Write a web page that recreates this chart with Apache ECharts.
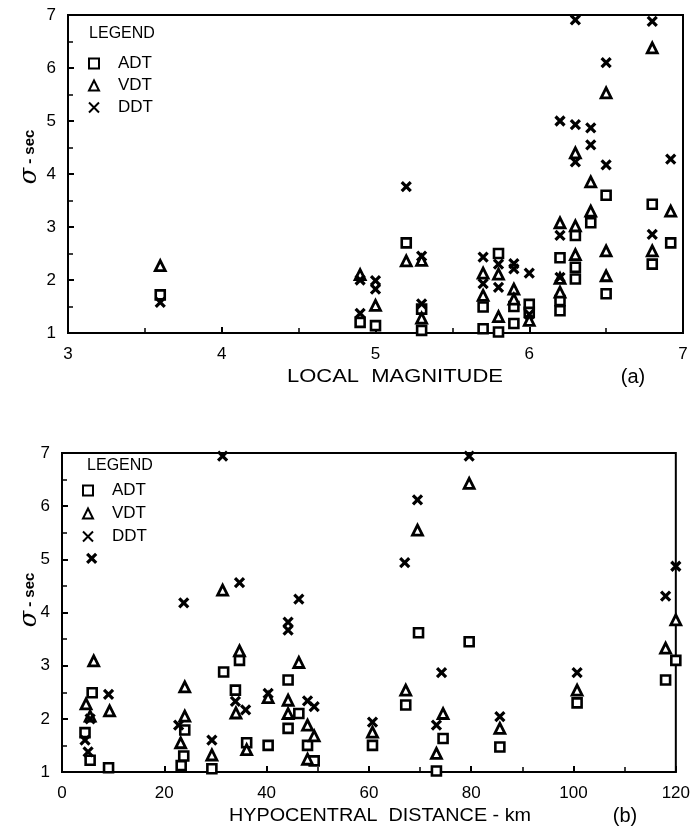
<!DOCTYPE html>
<html>
<head>
<meta charset="utf-8">
<script src="https://cdn.jsdelivr.net/npm/echarts@6/dist/echarts.min.js"></script>
<style>
html,body{margin:0;padding:0;background:#fff;}
#c{width:693px;height:829px;}
</style>
</head>
<body>
<div id="c"></div>
<script>
// (a) sigma vs local magnitude
var adtA = [[3.6,1.72],[4.9,1.2],[5.0,1.14],[5.2,2.70],[5.3,1.45],[5.3,1.05],[5.7,1.49],[5.7,1.08],[5.8,2.50],[5.8,1.02],[5.9,1.5],[5.9,1.18],[6.0,1.54],[6.0,1.39],[6.2,2.42],[6.2,1.61],[6.2,1.42],[6.3,2.84],[6.3,2.24],[6.3,2.02],[6.4,3.08],[6.5,3.6],[6.5,1.74],[6.8,3.43],[6.8,2.3],[6.92,2.7]];
var vdtA = [[3.6,2.27],[4.9,2.1],[5.0,1.52],[5.2,2.36],[5.3,2.37],[5.3,1.28],[5.7,2.13],[5.7,1.71],[5.8,2.11],[5.8,1.31],[5.9,1.83],[5.9,1.64],[6.0,1.24],[6.2,3.08],[6.2,2.03],[6.2,1.77],[6.3,4.4],[6.3,3.02],[6.3,2.48],[6.4,3.85],[6.4,3.3],[6.5,5.53],[6.5,2.55],[6.5,2.08],[6.8,6.38],[6.8,2.55],[6.92,3.3]];
var ddtA = [[3.6,1.58],[4.9,2.0],[4.9,1.37],[5.0,1.99],[5.0,1.83],[5.2,3.76],[5.3,2.45],[5.3,1.55],[5.7,2.43],[5.7,1.93],[5.8,2.30],[5.8,1.86],[5.9,2.31],[5.9,2.21],[6.0,2.13],[6.0,1.35],[6.2,5.0],[6.2,2.84],[6.2,2.05],[6.3,6.91],[6.3,4.93],[6.3,4.23],[6.4,4.87],[6.4,4.55],[6.5,6.1],[6.5,4.17],[6.8,6.88],[6.8,2.86],[6.92,4.28]];
// (b) sigma vs hypocentral distance
var adtB = [[4.5,1.74],[5.9,2.49],[5.5,1.22],[9.1,1.08],[23.3,1.12],[23.8,1.3],[24,1.79],[29.3,1.06],[31.6,2.88],[33.9,2.54],[34.7,3.1],[36.1,1.55],[40.3,1.5],[44.2,2.73],[44.2,1.82],[46.3,2.1],[48,1.5],[49.3,1.21],[60.7,1.5],[67.2,2.26],[69.7,3.62],[73.2,1.02],[74.5,1.63],[79.6,3.45],[85.6,1.47],[100.7,2.3],[118,2.73],[120,3.1]];
var vdtB = [[4.7,2.28],[5.5,2.05],[6.2,3.09],[9.3,2.15],[23.2,1.55],[24,2.6],[24,2.05],[29.3,1.32],[31.4,4.42],[34,2.11],[34.7,3.28],[36.1,1.42],[40.3,2.4],[44.2,2.35],[44.2,2.1],[46.3,3.06],[48,1.88],[48,1.24],[49.3,1.68],[60.7,1.75],[67.2,2.54],[69.5,5.55],[73.2,1.35],[74.5,2.1],[79.6,6.43],[85.6,1.82],[100.7,2.54],[118,3.33],[120,3.86]];
var ddtB = [[4.5,1.6],[5.1,1.38],[5.5,2.0],[5.8,5.02],[9.1,2.46],[22.8,1.88],[23.8,4.18],[29.3,1.6],[31.4,6.94],[33.9,2.33],[34.7,4.56],[35.9,2.17],[40.3,2.48],[44.2,3.82],[44.2,3.67],[46.3,4.25],[48,2.34],[49.3,2.23],[60.7,1.94],[67,4.94],[69.5,6.12],[73.2,1.88],[74.2,2.87],[79.6,6.94],[85.6,2.04],[100.7,2.87],[118,4.31],[120,4.87]];
var yTicks = [1,2,3,4,5,6,7];

var FONT = 'Liberation Sans';
var crossPath = 'path://M0,0 L10,10 M10,0 L0,10';

function xAx(idx, min, max, interval) {
  return {
    type: 'value', gridIndex: idx, min: min, max: max, interval: interval,
    axisLine: {show: true, onZero: false, lineStyle: {color: '#000', width: 2}},
    axisTick: {show: true, inside: true, length: 6, lineStyle: {color: '#000', width: 2}},
    minorTick: {show: true, splitNumber: 2, length: 5, lineStyle: {color: '#000', width: 1.5}},
    splitLine: {show: false},
    axisLabel: {color: '#000', fontFamily: FONT, fontSize: 17, margin: 13}
  };
}
function yAx(idx) {
  return {
    type: 'value', gridIndex: idx, min: 1, max: 7, interval: 1,
    axisLine: {show: true, onZero: false, lineStyle: {color: '#000', width: 2}},
    axisTick: {show: true, inside: true, length: 6, lineStyle: {color: '#000', width: 2}},
    minorTick: {show: true, splitNumber: 2, length: 5, lineStyle: {color: '#000', width: 1.5}},
    splitLine: {show: false},
    axisLabel: {color: '#000', fontFamily: FONT, fontSize: 17, margin: 12,
      formatter: function (v) { return yTicks.indexOf(v) >= 0 ? String(v) : ''; }}
  };
}
var sq = {symbol: 'rect', symbolSize: 9, itemStyle: {color: '#fff', borderColor: '#000', borderWidth: 2.6, opacity: 1}};
var tr = {symbol: 'triangle', symbolSize: 10, itemStyle: {color: '#fff', borderColor: '#000', borderWidth: 2.8, opacity: 1}};
var cr = {symbol: crossPath, symbolSize: 9, itemStyle: {color: '#000', borderColor: '#000', borderWidth: 3.2, opacity: 1}};
function ser(name, data, idx, sty) {
  return Object.assign({type: 'scatter', name: name, data: data, xAxisIndex: idx, yAxisIndex: idx, z: 3},
    JSON.parse(JSON.stringify(sty)), {symbol: sty.symbol});
}
function leg(left, top, gap) {
  return {
    orient: 'vertical', left: left, top: top, itemGap: gap, itemWidth: 10, itemHeight: 10,
    data: ['ADT', 'VDT', 'DDT'], textStyle: {color: '#000', fontFamily: FONT, fontSize: 17, padding: [0, 0, 0, 14]},
    selectedMode: false
  };
}
function txt(x, y, s, size, sx) {
  return {type: 'text', x: x, y: y, scaleX: sx || 1,
    style: {text: s, fill: '#000', font: (size || 16) + 'px "' + FONT + '"', textAlign: 'center', textVerticalAlign: 'middle'}};
}
function sigma(x, y) {
  return {type: 'text', x: x, y: y, rotation: Math.PI / 2,
    style: {rich: {s: {fontFamily: 'DejaVu Serif', fontStyle: 'italic', fontSize: 24, fill: '#000'}, t: {fontFamily: FONT, fontSize: 15, fontWeight: 'bold', fill: '#000'}},
      text: '{s|σ}{t| - sec}', textAlign: 'center', textVerticalAlign: 'middle'}};
}

var chart = echarts.init(document.getElementById('c'));
chart.setOption({
  animation: false,
  backgroundColor: '#fff',
  grid: [
    {left: 68, top: 15, width: 615, height: 318, show: true, borderColor: '#000', borderWidth: 2, backgroundColor: 'transparent'},
    {left: 62, top: 453, width: 616, height: 319, show: true, borderColor: '#000', borderWidth: 2, backgroundColor: 'transparent'}
  ],
  xAxis: [xAx(0, 3, 7, 1), xAx(1, 0, 120, 20)],
  yAxis: [yAx(0), yAx(1)],
  legend: [leg(83, 50, 5), leg(77, 477, 6)],
  series: [
    ser('ADT', adtA, 0, sq), ser('VDT', vdtA, 0, tr), ser('DDT', ddtA, 0, cr),
    ser('ADT', adtB, 1, sq), ser('VDT', vdtB, 1, tr), ser('DDT', ddtB, 1, cr)
  ],
  graphic: [
    txt(122, 34, 'LEGEND', 16),
    txt(120, 466, 'LEGEND', 16),
    txt(395, 377, 'LOCAL  MAGNITUDE', 18, 1.22),
    txt(633, 377, '(a)', 20),
    txt(380, 816, 'HYPOCENTRAL  DISTANCE - km', 18, 1.1),
    txt(625, 816, '(b)', 20),
    sigma(30, 157),
    sigma(30, 600)
  ]
});
</script>
</body>
</html>
